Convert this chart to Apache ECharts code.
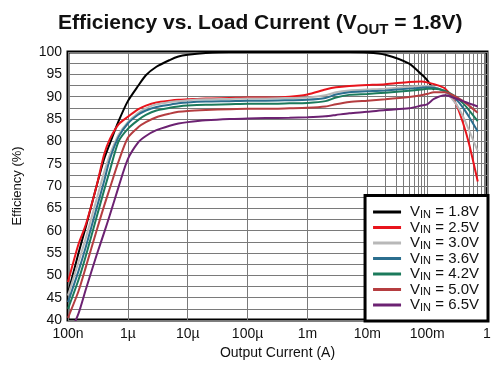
<!DOCTYPE html>
<html>
<head>
<meta charset="utf-8">
<script src="https://cdn.jsdelivr.net/npm/echarts@6/dist/echarts.min.js"></script>
<style>html,body{margin:0;padding:0;background:#fff}#c{width:500px;height:370px}</style>
</head>
<body>
<div id="c"></div>
<script>
// Output current (A)
const currents = [1e-7,1.5e-7,2e-7,3e-7,4e-7,5e-7,7e-7,1e-6,1.5e-6,2e-6,3e-6,5e-6,7e-6,1e-5,2e-5,5e-5,1e-4,2e-4,5e-4,1e-3,2e-3,3e-3,5e-3,1e-2,2e-2,5e-2,8e-2,0.1,0.13,0.2,0.3,0.4,0.5,0.7];
// Efficiency (%) per input voltage
const vin18 = [46,55,61,70,76,79.5,84.5,89,92.5,94.8,96.7,98.2,99,99.4,99.8,100,100,100,100,100,100,100,100,99.9,99.4,97.4,95,93.7,91.5,null,null,null,null,null];
const vin25 = [48.5,57,61.5,70,77,80.5,83.8,85.5,87.2,88,88.7,89.1,89.3,89.4,89.6,89.7,89.8,89.8,90.0,90.5,91.6,92.1,92.4,92.6,92.8,93.3,93.4,93.2,92.8,91.8,88.5,84,79.5,71];
const vin30 = [45.5,53,58.5,67,73,77,81.5,84.3,86.4,87.4,88.3,88.8,89,89.2,89.4,89.5,89.6,89.6,89.7,89.8,90.3,91,91.4,91.6,91.8,92.2,92.4,92.4,92.2,91,88.5,85.5,82.5,77.8];
const vin36 = [44,51,56.5,65,71,76,81,84,86,86.9,87.7,88.2,88.5,88.7,88.9,89,89.1,89.1,89.2,89.3,89.7,90.5,91,91.2,91.4,91.8,92,92.1,92,91.2,89.5,87.5,85.5,82.2];
const vin42 = [42.5,49,54.5,63,69,73.5,80,82.8,84.8,85.9,86.9,87.5,87.8,88,88.2,88.3,88.4,88.4,88.5,88.6,89,89.8,90.4,90.6,90.9,91.3,91.6,91.8,91.8,91.3,90,88.5,87,84.5];
const vin50 = [40.5,46.5,52,60,65.5,69.5,75.5,80.8,83.2,84.3,85.4,86.2,86.6,86.8,87,87.2,87.3,87.3,87.4,87.5,87.8,88.3,88.8,89.1,89.4,89.9,90.3,90.6,91,91,90,89,88,86.4];
const vin65 = [36,41.5,47,54.5,59.5,63.5,69.8,76,79.8,81.2,82.5,83.5,84,84.3,84.7,85,85.1,85.2,85.3,85.4,85.6,85.9,86.3,86.6,87,87.4,88,88.3,89.5,90.3,89.6,89,88.5,87.8];

const seriesNames = ['1.8V','2.5V','3.0V','3.6V','4.2V','5.0V','6.5V'];
const seriesValues = [vin18, vin25, vin30, vin36, vin42, vin50, vin65];
const seriesColors = ['#000000','#e8141c','#b8b8b8','#2b6e8e','#1b7a5b','#b53d40','#6c2272'];

const xTickLabels = {'-7':'100n','-6':'1µ','-5':'10µ','-4':'100µ','-3':'1m','-2':'10m','-1':'100m','0':'1'};

// minor vertical grid positions (2..9 per decade)
const minorLines = [];
for (let d = -7; d < 0; d++) for (let m = 2; m <= 9; m++) minorLines.push({xAxis: m * Math.pow(10, d)});

const gridColor = '#7a7a7a';
const font = '"Liberation Sans", Arial, sans-serif';

const chart = echarts.init(document.getElementById('c'));

const series = seriesNames.map((n, i) => ({
  name: n,
  type: 'line',
  z: 3,
  smooth: 0.25,
  symbol: 'none',
  lineStyle: {color: seriesColors[i], width: 2},
  itemStyle: {color: seriesColors[i]},
  data: currents.map((c, k) => [c, seriesValues[i][k]])
}));
series.unshift({
  type: 'line', z: 1, silent: true, data: [], symbol: 'none',
  markLine: {z: 1, silent: true, symbol: 'none', label: {show: false}, animation: false,
    lineStyle: {color: gridColor, width: 1, type: 'solid'}, data: minorLines}
});

chart.setOption({
  animation: false,
  backgroundColor: '#fff',
  title: {
    text: '{a|Efficiency vs. Load Current (V}{s|OUT}{a| = 1.8V)}',
    left: 53, top: 4,
    textStyle: {
      fontFamily: font,
      rich: {
        a: {fontSize: 21, fontWeight: 'bold', color: '#111', fontFamily: font, lineHeight: 28},
        s: {fontSize: 15, fontWeight: 'bold', color: '#111', fontFamily: font, lineHeight: 10, verticalAlign: 'bottom'}
      }
    }
  },
  grid: {left: 68, right: 13, top: 52, bottom: 50, show: true, borderColor: '#000', borderWidth: 3, backgroundColor: '#fff'},
  legend: {
    z: 20,
    orient: 'vertical', right: 12, bottom: 49,
    backgroundColor: '#fff', borderColor: '#000', borderWidth: 3,
    padding: [9, 9, 8, 8], itemGap: 0, itemWidth: 28, itemHeight: 3, icon: 'rect',
    data: seriesNames,
    formatter: n => '{v|V}{s|IN}{v| = ' + n + '}',
    textStyle: {
      fontFamily: font,
      padding: [0, 0, 0, 4],
      rich: {
        v: {fontSize: 15, color: '#111', fontFamily: font, lineHeight: 16},
        s: {fontSize: 11, color: '#111', fontFamily: font, lineHeight: 6, verticalAlign: 'bottom'}
      }
    }
  },
  xAxis: {
    type: 'log', logBase: 10, min: 1e-7, max: 1,
    name: 'Output Current (A)', nameLocation: 'middle', nameGap: 24,
    nameTextStyle: {fontSize: 14, color: '#111', fontFamily: font},
    axisLine: {show: false}, axisTick: {show: false},
    axisLabel: {fontSize: 14, color: '#111', fontFamily: font, margin: 7,
      formatter: v => xTickLabels[String(Math.round(Math.log10(v)))] || ''},
    splitLine: {show: true, lineStyle: {color: gridColor, width: 1}}
  },
  yAxis: {
    type: 'value', min: 40, max: 100, interval: 5,
    name: 'Efficiency (%)', nameLocation: 'middle', nameGap: 44, nameRotate: 90,
    nameTextStyle: {fontSize: 13, color: '#111', fontFamily: font},
    axisLine: {show: false}, axisTick: {show: false},
    axisLabel: {fontSize: 14, color: '#111', fontFamily: font, margin: 6},
    splitLine: {show: true, lineStyle: {color: gridColor, width: 1}},
    minorTick: {show: false, splitNumber: 2},
    minorSplitLine: {show: true, lineStyle: {color: gridColor, width: 1}}
  },
  series: series
});
</script>
</body>
</html>
